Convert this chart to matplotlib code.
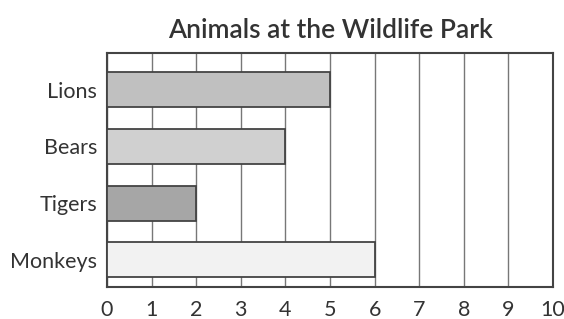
import matplotlib
matplotlib.use("Agg")
import matplotlib.pyplot as plt

categories = ["Lions", "Bears", "Tigers", "Monkeys"]
values = [5, 4, 2, 6]
colors = ["#c0c0c0", "#d0d0d0", "#a6a6a6", "#f2f2f2"]
xticks = list(range(0, 11))

plt.rcParams['font.family'] = ['Lato', 'DejaVu Sans']

fig = plt.figure(figsize=(5.64, 3.19), dpi=100)
ax = fig.add_axes([107/564, 1 - 287/319, (553-107)/564, (287-53)/319])

ypos = [3 - i for i in range(len(categories))]
ax.barh(ypos, values, height=0.62, color=colors, edgecolor="#444444", linewidth=1.3, zorder=3)

ax.set_xlim(0, 10)
ax.set_ylim(-0.48, 3.65)
ax.set_xticks(xticks)
ax.set_xticklabels([str(t) for t in xticks], fontsize=15.5, color="#333333")
ax.set_yticks(ypos)
ax.set_yticklabels(categories, fontsize=15.5, color="#333333")
ax.tick_params(axis="y", length=0, pad=7)
ax.tick_params(axis="x", length=0, pad=9)
ax.grid(axis="x", color="#777777", linewidth=1.0, zorder=0)
for s in ax.spines.values():
    s.set_color("#444444")
    s.set_linewidth(1.5)

fig.text((168+492)/2/564, 1 - 30/319, "Animals at the Wildlife Park", ha="center", va="center",
         fontsize=19, fontweight="semibold", color="#333333")

fig.savefig("out.png", dpi=100, facecolor="white")
